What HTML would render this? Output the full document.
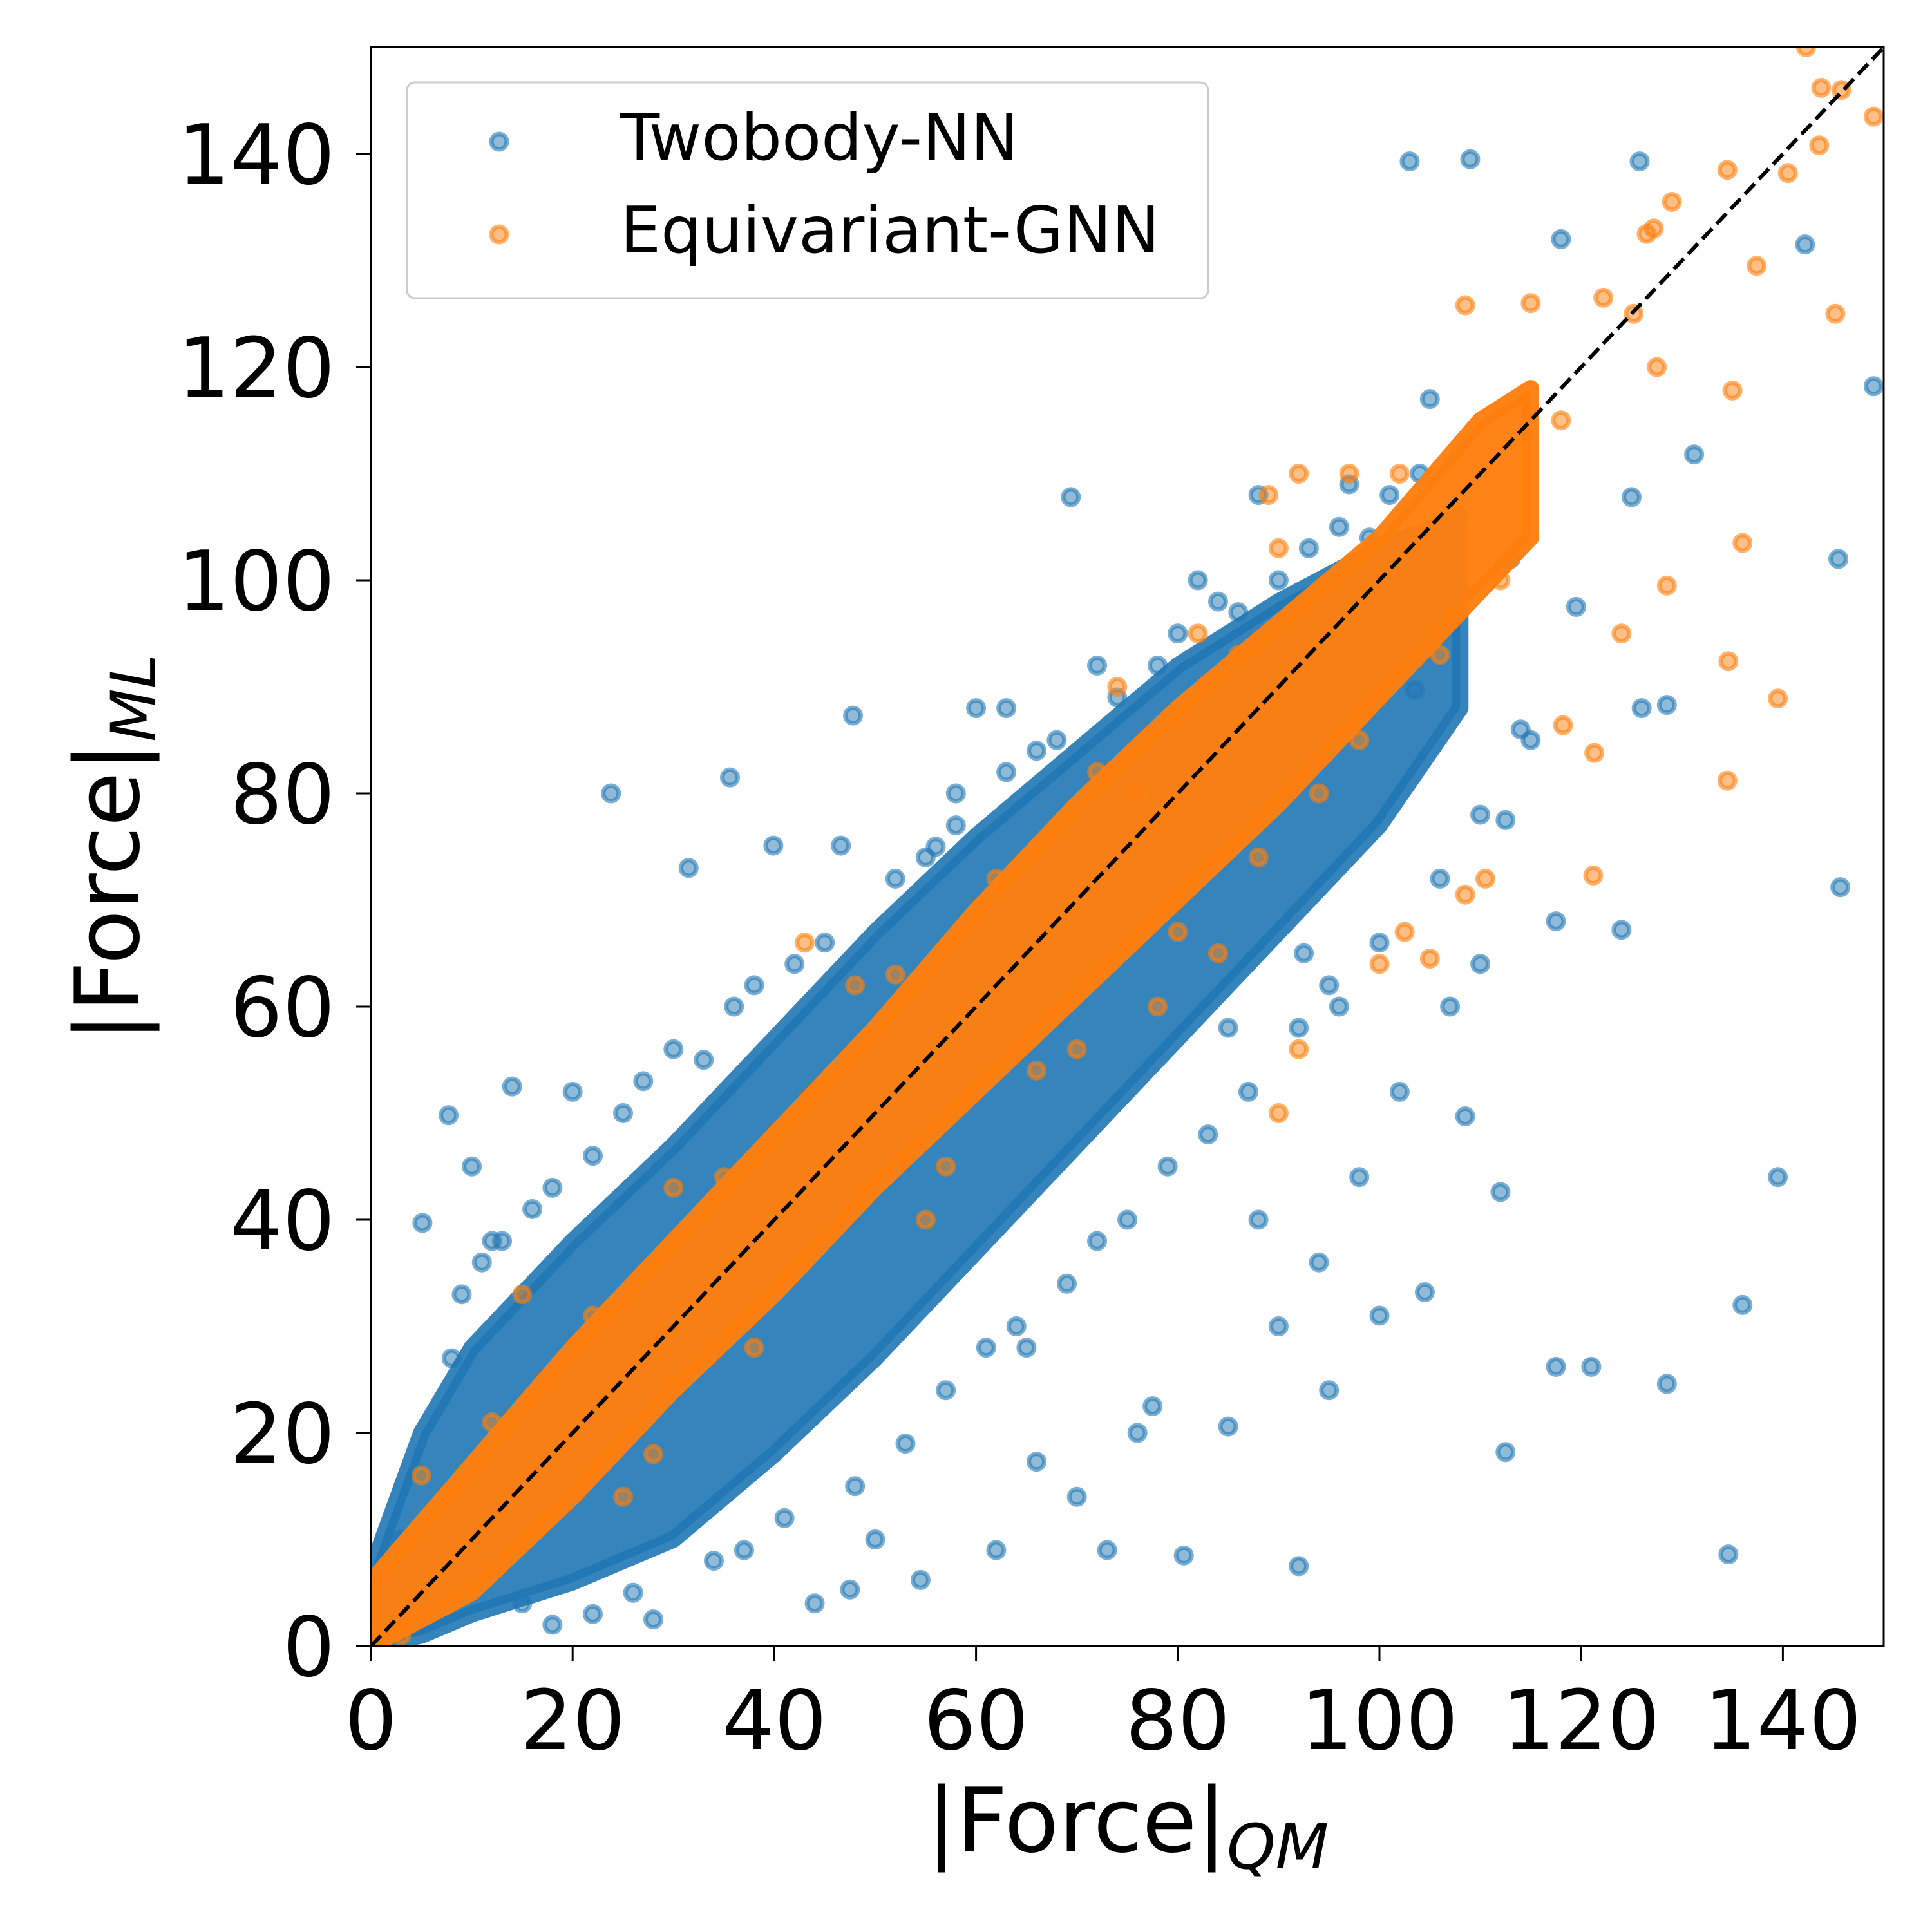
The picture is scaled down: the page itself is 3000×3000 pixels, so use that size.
<!DOCTYPE html>
<html><head><meta charset="utf-8"><style>
html,body{margin:0;padding:0;background:#fff;}
svg{display:block;font-family:"DejaVu Sans","Liberation Sans",sans-serif;}
</style></head><body>
<svg id="chart" width="3000" height="3000" viewBox="0 0 3000 3000" xmlns="http://www.w3.org/2000/svg">
<rect width="3000" height="3000" fill="#fff"/>
<g id="plot"></g>
<g id="axes"></g>
</svg>
<script>
const xTicks=[0,20,40,60,80,100,120,140];
const yTicks=[0,20,40,60,80,100,120,140];
const bandX=[0,5,10,20,30,40,50,60,70,80,90,100,108];
const blueLo=[0,1,3,6,10,18,27,37,47,57,67,77,88];
const blueHi=[7,20,28,38,47,57,67,76,84,92,98,103,106];
const orangeX=[0,10,20,30,40,50,60,70,80,90,100,110,115];
const orangeLo=[0,5,14,24,33,43,52,61,70,79,89,99,104];
const orangeHi=[6,17,28,38,48,58,69,79,88,96,104,115,118];
const blueX=[23.8,35.6,47.8,69.4,103,109,125.8,142.2,149,145.5,145.7,139.5,136,134.6,117.5,121,128.5,112.5,92,80.6,73,62,54.5,47.5,7.7,5.1,14,39.9,46.6,31.5,108.5,112,104.5,100,95,90,85,77.5,66,118,125,131.2,128.5,126,113,119.5,124,117.5,112.5,103.5,96,92.5,85,105,97,30,20,10,12,60,63,72,82,56,58,88,28,18,44,50,70,76,98,110,115,88,94,102,107,65,3,8,
 9,11,13,16,18,22,25,27,33,36,38,42,45,52,55,58,63,66,68,74,78,80,84,86,90,93,96,99,101,104,15,22,26,34,37,41,48,53,57,61,64,69,72,75,79,83,87,92,95,100,106,110,114];
const blueY=[80,81.5,87.3,107.8,139.3,139.5,139.3,131.5,118.2,102,71.2,44,32,8.6,26.2,26.2,24.6,18.2,7.5,8.5,9,9,6.2,5.3,49.8,39.7,52.5,75.1,75.1,73,49.7,42.6,33.2,31,24,30,20.6,22.5,17.3,132,107.8,111.8,88.3,88,102,97.5,67.2,68,77.5,89.7,60,65,58,117,109,56,52,45,38,88,88,92,100,75,80,108,2.5,2,4,10,14,20,44,64,85,40,36,52,60,28,10,27,
 33,36,38,41,43,46,50,53,55,60,62,64,66,72,74,77,82,84,85,89,92,95,98,97,100,103,105,104,108,110,4,3,5,8,9,12,15,19,24,28,30,34,38,40,45,48,52,58,62,66,72,78,86];
const orangeXs=[142.3,143.8,145.8,149,143.6,140.5,137.4,134.5,129,126.5,127.2,125.2,145.2,135,127.5,115,122.2,108.5,136,128.5,124,134.6,139.5,118.2,121.3,121.2,134.5,108.5,110.5,105,92,90,80,102.5,100,97,92,89,5,3,15,48,43,76,90,
 12,22,28,35,38,52,57,62,66,72,78,84,86,88,94,98,102,106,112,118,82,74,70,30,25,55];
const orangeYs=[150,146.2,146,143.5,140.8,138.2,129.5,138.5,135.5,132.5,133,125,125,117.8,120,126,126.5,125.8,103.5,99.5,95,92.4,88.9,86.4,83.8,72.3,81.2,70.5,72,64.5,56,50,67,67,64,110,110,108,16,1,33,62,66,80,103,
 21,31,18,44,28,63,45,72,54,82,60,65,93,74,80,85,110,93,100,115,95,90,56,43,14,40];

const X0=576,XS=15.66,Y0=2556,YS=16.55;
function sx(v){return X0+v*XS;}
function sy(v){return Y0-v*YS;}
const NS="http://www.w3.org/2000/svg";
const plot=document.getElementById('plot'),axes=document.getElementById('axes');
function mk(tag,attrs,parent){const e=document.createElementNS(NS,tag);for(const k in attrs)e.setAttribute(k,attrs[k]);parent.appendChild(e);return e;}

function band(xs,lo,hi,color,op,name){
  let pts=[];
  for(let i=0;i<xs.length;i++)pts.push(sx(xs[i])+','+sy(hi[i]));
  for(let i=xs.length-1;i>=0;i--)pts.push(sx(xs[i])+','+sy(lo[i]));
  const p=mk('polygon',{points:pts.join(' '),fill:color,'fill-opacity':op,stroke:color,'stroke-width':26,'stroke-opacity':op,'stroke-linejoin':'round'},plot);
  
  
}
function dots(xs,ys,color,name){
  for(let i=0;i<xs.length;i++){
    const c=mk('circle',{cx:sx(xs[i]),cy:sy(ys[i]),r:12,fill:color,'fill-opacity':0.5,stroke:color,'stroke-opacity':0.6,'stroke-width':7},plot);
    
    
  }
}
const clip=mk('clipPath',{id:'clp'},document.getElementById('chart'));
mk('rect',{x:X0,y:sy(150),width:150*XS,height:150*YS},clip);
plot.setAttribute('clip-path','url(#clp)');

band(bandX,blueLo,blueHi,'#1f77b4',0.9,'twobody-density-band');
dots(blueX,blueY,'#1f77b4','twobody-point');
band(orangeX,orangeLo,orangeHi,'#ff7f0e',0.97,'equivariant-density-band');
dots(orangeXs,orangeYs,'#ff7f0e','equivariant-point');

const diag=mk('line',{x1:sx(0),y1:sy(0),x2:sx(150),y2:sy(150),stroke:'#000','stroke-width':6,'stroke-dasharray':'22,10'},plot);



const frame=mk('rect',{x:X0,y:sy(150),width:150*XS,height:150*YS,fill:'none',stroke:'#000','stroke-width':3},axes);



xTicks.forEach(v=>{
  mk('line',{x1:sx(v),y1:Y0,x2:sx(v),y2:Y0+23,stroke:'#000','stroke-width':3},axes);
  const t=mk('text',{x:sx(v),y:2716,'font-size':128,'text-anchor':'middle',fill:'#000'},axes);
  t.textContent=v;
  
  
});
yTicks.forEach(v=>{
  mk('line',{x1:X0,y1:sy(v),x2:X0-23,y2:sy(v),stroke:'#000','stroke-width':3},axes);
  const t=mk('text',{x:520,y:sy(v)+46,'font-size':128,'text-anchor':'end',fill:'#000'},axes);
  t.textContent=v;
  
  
});
</script>
<svg style="position:absolute;left:0;top:0" width="3000" height="3000" viewBox="0 0 3000 3000">
<g font-family="DejaVu Sans, Liberation Sans, sans-serif">
<text x="1751" y="2875" font-size="138" text-anchor="middle">|Force|<tspan font-style="italic" font-size="96" dy="26">QM</tspan></text>
<text transform="translate(215,1317) rotate(-90)" font-size="138" text-anchor="middle">|Force|<tspan font-style="italic" font-size="96" dy="26">ML</tspan></text>
<g>
<rect x="632" y="128" width="1244" height="335" rx="12" fill="#fff" fill-opacity="0.8" stroke="#ccc" stroke-width="3"/>
<circle cx="775" cy="220" r="12" fill="#1f77b4" fill-opacity="0.5" stroke="#1f77b4" stroke-opacity="0.6" stroke-width="7"/>
<text x="963" y="248" font-size="100">Twobody-NN</text>
<circle cx="775" cy="364" r="12" fill="#ff7f0e" fill-opacity="0.5" stroke="#ff7f0e" stroke-opacity="0.6" stroke-width="7"/>
<text x="963" y="392" font-size="100">Equivariant-GNN</text>
</g>
</g>
</svg>
</body></html>
